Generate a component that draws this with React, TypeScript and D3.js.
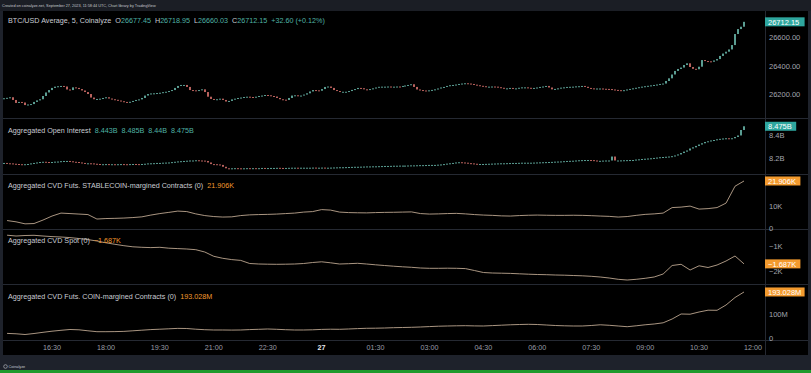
import * as d3 from "d3";

// 5-minute candles start here (UTC)
const startTime = Date.UTC(2023, 8, 26, 15, 10);
const candleMinutes = 5;
const lineMinutes = 15;
const lineFirstOffset = 5;

const priceOpen0 = 26168;
const priceCloses = [
  26172, 26175, 26179, 26160, 26139, 26146, 26142, 26124, 26128, 26131, 26146, 26157, 26165, 26188, 26213, 26230, 26245, 26254,
  26257, 26259, 26255, 26234, 26230, 26249, 26245, 26237, 26227, 26216, 26202, 26177, 26165, 26167, 26169, 26174, 26179, 26170,
  26165, 26161, 26156, 26151, 26146, 26141, 26147, 26153, 26160, 26164, 26174, 26191, 26202, 26206, 26207, 26209, 26211, 26215,
  26218, 26223, 26230, 26245, 26259, 26266, 26266, 26252, 26230, 26228, 26225, 26230, 26235, 26216, 26183, 26167, 26160, 26165,
  26169, 26160, 26149, 26153, 26164, 26169, 26174, 26177, 26181, 26183, 26181, 26179, 26183, 26188, 26191, 26195, 26193, 26188,
  26184, 26174, 26165, 26162, 26160, 26174, 26191, 26193, 26189, 26191, 26198, 26207, 26220, 26230, 26228, 26225, 26237, 26252,
  26255, 26245, 26230, 26223, 26218, 26218, 26218, 26223, 26231, 26237, 26245, 26243, 26235, 26230, 26237, 26242, 26248, 26253,
  26254, 26254, 26255, 26254, 26254, 26255, 26254, 26259, 26262, 26266, 26271, 26252, 26234, 26230, 26227, 26225, 26228, 26231,
  26235, 26241, 26248, 26252, 26259, 26264, 26266, 26269, 26273, 26276, 26278, 26276, 26273, 26268, 26264, 26260, 26257, 26254,
  26254, 26255, 26254, 26250, 26246, 26242, 26242, 26245, 26242, 26242, 26246, 26249, 26249, 26246, 26242, 26245, 26248, 26252,
  26255, 26259, 26248, 26235, 26238, 26242, 26247, 26249, 26252, 26253, 26254, 26256, 26257, 26259, 26253, 26245, 26242, 26241,
  26241, 26241, 26239, 26238, 26237, 26234, 26231, 26229, 26225, 26229, 26234, 26238, 26242, 26246, 26250, 26254, 26257, 26260,
  26263, 26266, 26269, 26273, 26276, 26294, 26313, 26340, 26365, 26379, 26389, 26407, 26419, 26393, 26380, 26377, 26395, 26442,
  26435, 26433, 26430, 26439, 26449, 26471, 26488, 26501, 26517, 26548, 26626, 26661, 26677.45, 26712.15,
];

// open interest, billions
const oiOpen0 = 8.159;
const oiCloses = [
  8.160, 8.157, 8.156, 8.153, 8.151, 8.149, 8.147, 8.149, 8.151, 8.156, 8.160, 8.164, 8.168, 8.170, 8.168, 8.166, 8.168, 8.171,
  8.172, 8.175, 8.177, 8.177, 8.174, 8.170, 8.168, 8.164, 8.160, 8.157, 8.157, 8.156, 8.153, 8.151, 8.149, 8.149, 8.150, 8.149,
  8.149, 8.147, 8.149, 8.150, 8.149, 8.147, 8.150, 8.151, 8.150, 8.149, 8.151, 8.153, 8.156, 8.157, 8.158, 8.160, 8.160, 8.162,
  8.163, 8.164, 8.167, 8.170, 8.173, 8.175, 8.177, 8.179, 8.181, 8.181, 8.183, 8.181, 8.180, 8.177, 8.164, 8.150, 8.149, 8.147,
  8.143, 8.127, 8.114, 8.112, 8.114, 8.115, 8.114, 8.112, 8.114, 8.115, 8.114, 8.115, 8.114, 8.115, 8.117, 8.115, 8.116, 8.117,
  8.117, 8.118, 8.117, 8.116, 8.117, 8.118, 8.119, 8.119, 8.118, 8.119, 8.119, 8.119, 8.119, 8.120, 8.119, 8.119, 8.120, 8.119,
  8.119, 8.120, 8.121, 8.122, 8.123, 8.123, 8.124, 8.125, 8.126, 8.127, 8.127, 8.128, 8.129, 8.130, 8.130, 8.131, 8.131, 8.132,
  8.133, 8.134, 8.134, 8.135, 8.136, 8.136, 8.137, 8.137, 8.137, 8.138, 8.139, 8.139, 8.140, 8.141, 8.141, 8.142, 8.143, 8.143,
  8.143, 8.145, 8.147, 8.150, 8.154, 8.157, 8.160, 8.164, 8.166, 8.164, 8.162, 8.158, 8.156, 8.153, 8.151, 8.151, 8.151, 8.152,
  8.153, 8.154, 8.155, 8.156, 8.157, 8.157, 8.158, 8.159, 8.160, 8.160, 8.161, 8.162, 8.162, 8.162, 8.162, 8.163, 8.164, 8.165,
  8.166, 8.167, 8.168, 8.169, 8.171, 8.172, 8.173, 8.175, 8.177, 8.178, 8.179, 8.181, 8.183, 8.184, 8.185, 8.185, 8.184, 8.181,
  8.178, 8.178, 8.180, 8.181, 8.181, 8.215, 8.181, 8.181, 8.182, 8.183, 8.184, 8.185, 8.185, 8.189, 8.191, 8.194, 8.196, 8.198,
  8.200, 8.203, 8.206, 8.209, 8.211, 8.213, 8.215, 8.218, 8.224, 8.233, 8.245, 8.257, 8.267, 8.284, 8.294, 8.306, 8.318, 8.329,
  8.340, 8.346, 8.353, 8.357, 8.363, 8.367, 8.370, 8.372, 8.370, 8.372, 8.383, 8.396, 8.443, 8.475,
];

// CVD series, one point every 15 minutes
const cvdStable = [ // K
  3.59, 3.0, 2.07, 2.21, 3.82, 5.67, 7.05, 6.82, 6.59, 6.36,
  4.29, 4.52, 4.61, 4.75, 4.98, 5.30, 6.13, 6.82, 7.37, 7.97,
  7.74, 6.68, 5.90, 5.44, 5.21, 5.30, 5.90, 6.22, 6.36, 6.45,
  6.59, 6.82, 7.05, 7.51, 7.74, 8.66, 8.43, 7.51, 7.28, 7.19,
  7.14, 7.28, 7.37, 7.42, 7.51, 7.60, 6.82, 6.59, 6.68, 6.82,
  6.91, 6.68, 6.36, 6.13, 5.99, 5.76, 5.67, 5.90, 6.04, 6.13,
  6.04, 5.99, 5.99, 6.04, 5.99, 5.85, 5.67, 5.53, 5.21, 5.44,
  5.99, 6.45, 6.68, 7.05, 9.59, 9.82, 10.28, 8.89, 9.12, 9.59,
  11.66, 19.49, 21.906,
];
const cvdSpot = [ // K
  -0.540, -0.572, -0.552, -0.544, -0.572, -0.596, -0.612, -0.636, -0.672, -0.716,
  -0.772, -0.844, -0.904, -0.960, -1.004, -1.024, -1.036, -1.024, -1.060, -1.076,
  -1.092, -1.120, -1.212, -1.384, -1.464, -1.516, -1.548, -1.672, -1.692, -1.700,
  -1.704, -1.700, -1.692, -1.672, -1.632, -1.604, -1.644, -1.692, -1.680, -1.664,
  -1.692, -1.724, -1.752, -1.780, -1.804, -1.824, -1.852, -1.864, -1.864, -1.860,
  -1.864, -1.876, -1.952, -2.032, -2.052, -2.060, -2.068, -2.084, -2.100, -2.112,
  -2.120, -2.132, -2.140, -2.152, -2.164, -2.184, -2.212, -2.252, -2.304, -2.332,
  -2.304, -2.264, -2.212, -2.092, -1.752, -1.704, -1.932, -1.764, -1.832, -1.732,
  -1.572, -1.372, -1.687,
];
const cvdCoin = [ // M
  20.4, 18.8, 15.8, 20.0, 25.0, 29.6, 33.3, 36.7, 35.4, 31.3,
  27.5, 27.5, 27.9, 28.8, 31.3, 33.8, 36.3, 37.9, 39.6, 41.3,
  40.8, 37.9, 35.8, 34.6, 34.6, 34.2, 34.6, 36.3, 37.5, 38.8,
  37.5, 35.8, 34.6, 34.6, 35.4, 37.1, 37.9, 37.5, 38.8, 40.4,
  41.7, 42.1, 42.9, 44.2, 45.0, 45.8, 47.1, 48.8, 50.4, 51.3,
  52.1, 52.5, 51.7, 51.3, 52.9, 54.6, 56.3, 57.5, 58.3, 57.5,
  55.4, 53.3, 52.1, 51.3, 51.3, 53.3, 56.3, 54.2, 51.3, 48.3,
  52.1, 56.3, 59.6, 64.6, 80.4, 101.3, 100.4, 109.6, 117.1, 116.7,
  138.8, 170.0, 193.028,
];

const priceHeader = [["O", "26677.45"], ["H", "26718.95"], ["L", "26660.03"], ["C", "26712.15"]];
const priceChange = "+32.60 (+0.12%)";
const oiHeader = ["8.443B", "8.485B", "8.44B", "8.475B"];

const timeTicks = [
  "2023-09-26T16:30:00Z", "2023-09-26T18:00:00Z", "2023-09-26T19:30:00Z", "2023-09-26T21:00:00Z",
  "2023-09-26T22:30:00Z", "2023-09-27T00:00:00Z", "2023-09-27T01:30:00Z", "2023-09-27T03:00:00Z",
  "2023-09-27T04:30:00Z", "2023-09-27T06:00:00Z", "2023-09-27T07:30:00Z", "2023-09-27T09:00:00Z",
  "2023-09-27T10:30:00Z", "2023-09-27T12:00:00Z",
];
const priceTicks = [26200, 26400, 26600];
const oiTicks = [8.2, 8.4];
const stableTicks = [0, 10]; // 20K sits under the last-value badge
const spotTicks = [-1, -2];
const coinTicks = [0, 100];

const W = 811;
const H = 373;
const plotLeft = 3;
const plotRight = 765;
const font = "'Liberation Sans', Arial, sans-serif";
const up = "#5a9d92";
const down = "#b8615d";
const teal = "#2ea69e";
const orange = "#f39a2e";
const cvdColor = "#bca690";
const gridColor = "#252932";

const minus = (s) => s.replace("-", "\u2212");

const x = d3
  .scaleUtc()
  .domain([new Date(timeTicks[0]), new Date(timeTicks[timeTicks.length - 1])])
  .range([52, 753]);

const priceY = d3.scaleLinear().domain([26032.5, 26781.6]).range([118, 12]);
const oiY = d3.scaleLinear().domain([8.065, 8.546]).range([174, 118]);
const stableY = d3.scaleLinear().domain([-0.32, 25.14]).range([229, 174]);
const spotY = d3.scaleLinear().domain([-2.492, -0.292]).range([284, 229]);
const coinY = d3.scaleLinear().domain([-7.08, 226.25]).range([340, 284]);

const candleTime = (i) => new Date(startTime + i * candleMinutes * 60000);
const lineTime = (k) => new Date(startTime + (lineFirstOffset + k * lineMinutes) * 60000);

function Candles({ closes, open0, y }) {
  return (
    <g>
      {closes.map((c, i) => {
        const o = i === 0 ? open0 : closes[i - 1];
        const y0 = y(o);
        const y1 = y(c);
        const top = Math.min(y0, y1);
        const h = Math.max(1, Math.abs(y1 - y0));
        return (
          <rect
            key={i}
            x={Math.round(x(candleTime(i))) - 1}
            y={top}
            width={2}
            height={h}
            fill={c >= o ? up : down}
          />
        );
      })}
    </g>
  );
}

function CvdLine({ values, y }) {
  const line = d3
    .line()
    .x((d, k) => x(lineTime(k)))
    .y((d) => y(d));
  return <path d={line(values)} fill="none" stroke={cvdColor} strokeWidth={0.9} />;
}

function AxisLabels({ ticks, y, fmt }) {
  return (
    <g fontSize={7.5} fill="#a3a6af" fontFamily={font}>
      {ticks.map((t) => (
        <text key={t} x={769} y={y(t) + 2.7}>
          {fmt(t)}
        </text>
      ))}
    </g>
  );
}

function Badge({ value, y, text, color }) {
  const w = text.length * 4.2 + 6;
  const cy = y(value);
  return (
    <g>
      <rect x={765} y={cy - 4.5} width={w} height={9} fill={color} />
      <text x={768} y={cy + 2.7} fontSize={7.5} fill="#ffffff" fontFamily={font}>
        {text}
      </text>
    </g>
  );
}

export default function App() {
  const lastPrice = priceCloses[priceCloses.length - 1];
  const lastOi = oiCloses[oiCloses.length - 1];
  const lastStable = cvdStable[cvdStable.length - 1];
  const lastSpot = cvdSpot[cvdSpot.length - 1];
  const lastCoin = cvdCoin[cvdCoin.length - 1];
  const stableText = `${lastStable.toFixed(3)}K`;
  const spotText = minus(`${lastSpot.toFixed(3)}K`);
  const coinText = `${lastCoin.toFixed(3)}M`;

  const fmtTime = (s) => {
    const d = new Date(s);
    return d.getUTCHours() === 0 && d.getUTCMinutes() === 0 ? d3.utcFormat("%-d")(d) : d3.utcFormat("%H:%M")(d);
  };

  return (
    <svg width={W} height={H} style={{ position: "absolute", left: 0, top: 0, display: "block" }}>
      <defs>
        <clipPath id="plot">
          <rect x={plotLeft} y={11} width={plotRight - plotLeft} height={329} />
        </clipPath>
      </defs>
      <rect x={0} y={0} width={W} height={H} fill="#1e222b" />
      <rect x={0} y={0} width={W} height={11} fill="#1b1e25" />
      <text x={2} y={7} fontSize={3.8} fill="#c3c6cc" fontFamily={font}>
        Created on coinalyze.net, September 27, 2023, 11:58:44 UTC, Chart library by TradingView
      </text>
      <rect x={plotLeft} y={11} width={808 - plotLeft} height={344} fill="#000000" />

      {/* separators */}
      <g stroke={gridColor} strokeWidth={1}>
        {[118, 174, 229, 284, 340].map((yy) => (
          <line key={yy} x1={plotLeft} x2={808} y1={yy + 0.5} y2={yy + 0.5} />
        ))}
        <line x1={plotRight + 0.5} x2={plotRight + 0.5} y1={11} y2={355} />
      </g>

      <g clipPath="url(#plot)">
        <Candles closes={priceCloses} open0={priceOpen0} y={priceY} />
        <Candles closes={oiCloses} open0={oiOpen0} y={oiY} />
        <CvdLine values={cvdStable} y={stableY} />
        <CvdLine values={cvdSpot} y={spotY} />
        <CvdLine values={cvdCoin} y={coinY} />
      </g>

      {/* panel titles */}
      <g fontFamily={font} fontSize={7.2} fill="#c9ccd3">
        <text x={8} y={23.3}>
          BTC/USD Average, 5, Coinalyze
          {priceHeader.map(([k, v]) => (
            <tspan key={k}>
              <tspan dx={4}>{k}</tspan>
              <tspan fill="#4fb3a5">{v}</tspan>
            </tspan>
          ))}
          <tspan dx={4} fill="#4fb3a5">{priceChange}</tspan>
        </text>
        <text x={8} y={132.5}>
          Aggregated Open Interest
          {oiHeader.map((v, i) => (
            <tspan key={i} dx={4} fill="#4fb3a5">{v}</tspan>
          ))}
        </text>
        <text x={8} y={188}>
          Aggregated CVD Futs. STABLECOIN-margined Contracts (0)
          <tspan dx={4} fill={orange}>{stableText}</tspan>
        </text>
        <text x={8} y={242.5}>
          Aggregated CVD Spot (0)
          <tspan dx={4} fill={orange}>{spotText}</tspan>
        </text>
        <text x={8} y={298.5}>
          Aggregated CVD Futs. COIN-margined Contracts (0)
          <tspan dx={4} fill={orange}>{coinText}</tspan>
        </text>
      </g>

      {/* right scale */}
      <AxisLabels ticks={priceTicks} y={priceY} fmt={(t) => t.toFixed(2)} />
      <AxisLabels ticks={oiTicks} y={oiY} fmt={(t) => `${t}B`} />
      <AxisLabels ticks={stableTicks} y={stableY} fmt={(t) => (t === 0 ? "0" : `${t}K`)} />
      <AxisLabels ticks={spotTicks} y={spotY} fmt={(t) => minus(`${t}K`)} />
      <AxisLabels ticks={coinTicks} y={coinY} fmt={(t) => (t === 0 ? "0" : `${t}M`)} />

      <Badge value={lastPrice} y={priceY} text={lastPrice.toFixed(2)} color={teal} />
      <Badge value={lastOi} y={oiY} text={`${lastOi.toFixed(3)}B`} color={teal} />
      <Badge value={lastStable} y={stableY} text={stableText} color={orange} />
      <Badge value={lastSpot} y={spotY} text={spotText} color={orange} />
      <Badge value={lastCoin} y={coinY} text={coinText} color={orange} />

      {/* time axis */}
      <g fontFamily={font} fontSize={7.2} textAnchor="middle">
        {timeTicks.map((s) => {
          const label = fmtTime(s);
          const bold = label.length <= 2;
          return (
            <text
              key={s}
              x={x(new Date(s))}
              y={349.5}
              fill={bold ? "#e6e8ee" : "#9a9da6"}
              fontWeight={bold ? "bold" : "normal"}
            >
              {label}
            </text>
          );
        })}
      </g>

      {/* footer */}
      <circle cx={5.5} cy={366.5} r={1.8} fill="none" stroke="#c3c6cc" strokeWidth={0.6} />
      <text x={8.5} y={368} fontSize={3.8} fill="#c3c6cc" fontFamily={font}>
        Coinalyze
      </text>
      <rect x={0} y={370} width={W} height={3} fill="#1f9a2c" />
    </svg>
  );
}
